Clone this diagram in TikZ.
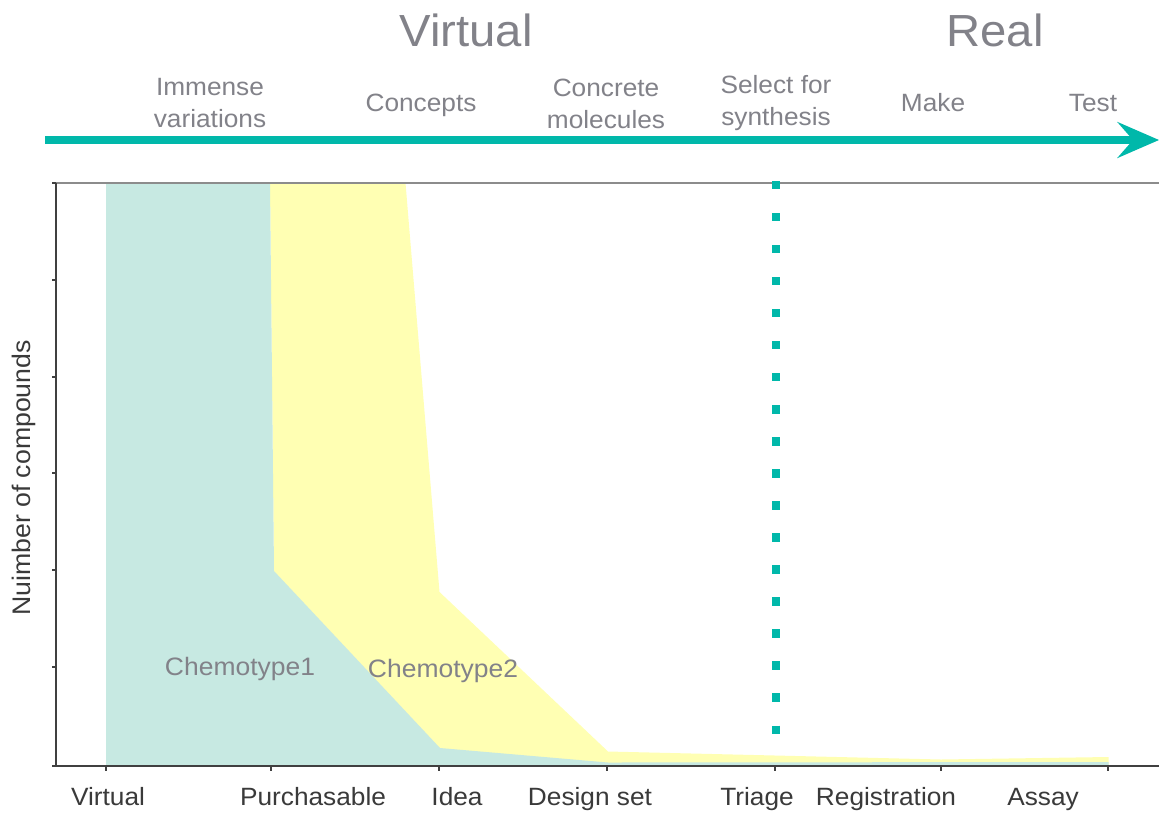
\documentclass[tikz,border=0pt]{standalone}
\usepackage{fontspec}
\setmainfont[FakeStretch=1.05]{Liberation Sans}
\usetikzlibrary{arrows.meta}
\definecolor{tealA}{HTML}{00B8AA}
\definecolor{tealFill}{HTML}{C7E9E2}
\definecolor{yellowFill}{HTML}{FFFFB3}
\definecolor{greyT}{HTML}{828289}
\definecolor{darkT}{HTML}{3A3A3A}
\definecolor{axisC}{HTML}{404040}
\definecolor{frameC}{HTML}{8C8C8C}
\begin{document}
\begin{tikzpicture}[x=1pt,y=-1pt,
  titletext/.style={text=greyT, font=\fontsize{45}{54}\selectfont, anchor=base, inner sep=0pt},
  phasetext/.style={text=greyT, font=\fontsize{25}{31.5}\selectfont, align=center, inner sep=0pt},
  stagetext/.style={text=darkT, font=\fontsize{25}{30}\selectfont, anchor=base, inner sep=0pt},
  chemotext/.style={text=greyT, font=\fontsize{25.2}{30}\selectfont, anchor=base, inner sep=0pt},
  axislabel/.style={text=darkT, font=\fontsize{25.4}{30}\selectfont, inner sep=0pt, rotate=90},
  axisline/.style={draw=axisC, line width=1.5pt},
  frameline/.style={draw=frameC, line width=2.2pt},
  timeline/.style={draw=tealA, line width=8pt, -{Stealth[length=42pt,width=36.5pt,inset=16pt,line width=0pt]}},
  dotline/.style={draw=tealA, line width=8.3pt, dash pattern=on 8.3pt off 23.73pt}
]
\useasboundingbox[fill=white] (0,0) rectangle (1159,812);

% titles
\node[titletext] (tVirtual) at (466,46.7) {Virtual};
\node[titletext] (tReal) at (995,46.7) {Real};

% phases
\node[phasetext, anchor=north] (pImm) at (210,78.3) {Immense\\variations};
\node[phasetext, anchor=base] (pCon) at (421,111.7) {Concepts};
\node[phasetext, anchor=north] (pMol) at (606,79) {Concrete\\molecules};
\node[phasetext, anchor=north] (pSel) at (776,75.5) {Select for\\synthesis};
\node[phasetext, anchor=base] (pMake) at (933,111.5) {Make};
\node[phasetext, anchor=base] (pTest) at (1093,111.5) {Test};

% timeline arrow
\coordinate (arrStart) at (45,140);
\coordinate (arrEnd) at (1159,140);
\draw[timeline] (arrStart) -- (arrEnd);

% filled areas
\fill[yellowFill] (270,183) -- (405.5,183) -- (439.5,592) -- (608,751.5) -- (775,755.5)
  -- (941,759.5) -- (1108.5,757) -- (1108.5,766) -- (274,766) -- (274,571) -- cycle;
\fill[tealFill] (106,183) -- (270,183) -- (274,571) -- (440,748) -- (608,762.5)
  -- (1108.5,762) -- (1108.5,766) -- (106,766) -- cycle;

% frame and axes
\coordinate (topL) at (52,183);
\coordinate (topR) at (1159,183);
\coordinate (axTop) at (56,183);
\coordinate (axOrig) at (56,766);
\coordinate (axBL) at (52,766);
\coordinate (axBR) at (1159,766);
\draw[frameline] (topL) -- (topR);
\draw[axisline] (axBL) -- (axBR);
\draw[axisline] (axTop) -- (axOrig);
\foreach \yy in {183,280,377,473,570,667,766} \draw[axisline, line width=1.2pt] (52,\yy) -- (56,\yy);
\foreach \xx in {106,271,439,607,775,941,1108} \draw[axisline, line width=1.2pt] (\xx,766) -- (\xx,771);

% dotted triage line
\coordinate (dotTop) at (776,181);
\coordinate (dotBot) at (776,733.5);
\draw[dotline] (dotTop) -- (dotBot);

% chemotype labels
\node[chemotext] (c1) at (240,675.5) {Chemotype1};
\node[chemotext] (c2) at (443,677.5) {Chemotype2};

% axis label
\node[axislabel] (ylab) at (24,478) {Nuimber of compounds};

% stage labels
\node[stagetext] (sVirtual) at (108,805) {Virtual};
\node[stagetext] (sPurch) at (313,805) {Purchasable};
\node[stagetext] (sIdea) at (457,805) {Idea};
\node[stagetext] (sDesign) at (590,805) {Design set};
\node[stagetext] (sTriage) at (757,805) {Triage};
\node[stagetext] (sReg) at (886,805) {Registration};
\node[stagetext] (sAssay) at (1043,805) {Assay};
\end{tikzpicture}
\end{document}
